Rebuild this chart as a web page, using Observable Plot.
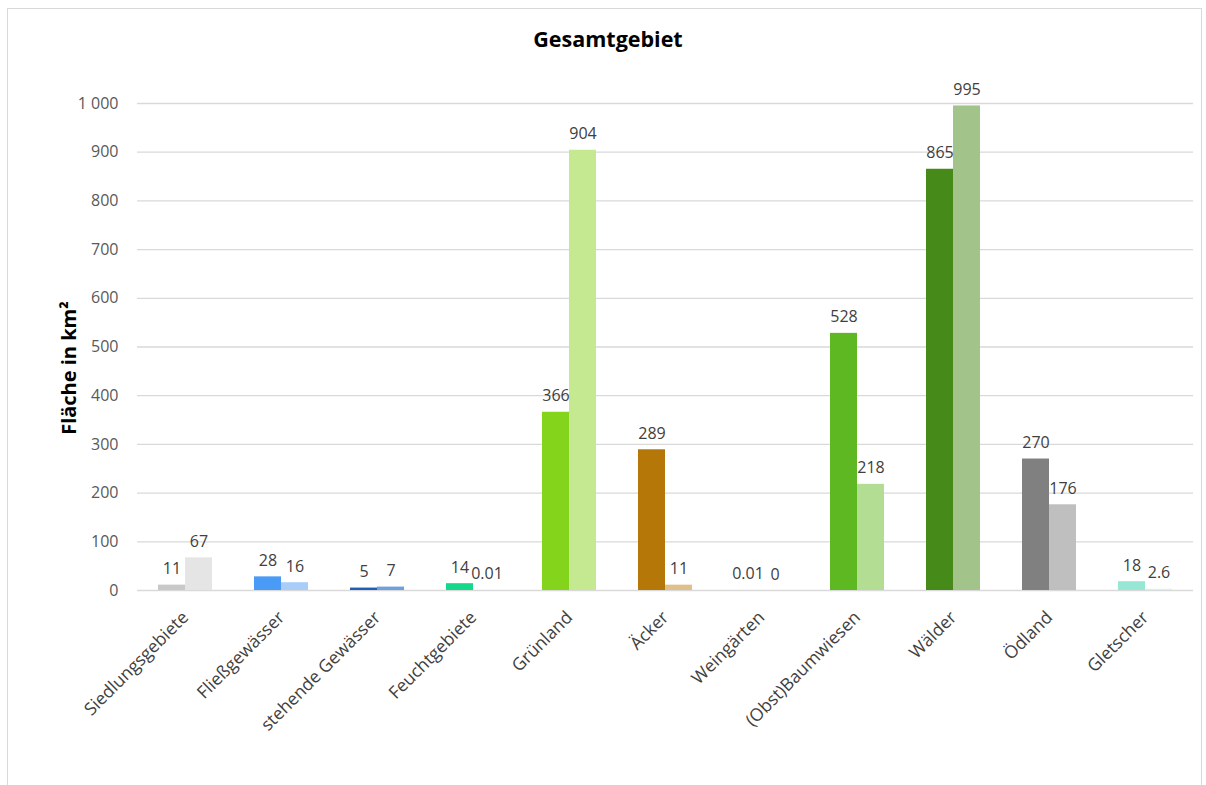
<!DOCTYPE html>
<html>
<head>
<meta charset="utf-8">
<script src="https://cdn.jsdelivr.net/npm/d3@7"></script>
<script src="https://cdn.jsdelivr.net/npm/@observablehq/plot@0.6"></script>
<style>
  html, body { margin: 0; padding: 0; background: #fff; }
  #frame { position: absolute; left: 7px; top: 8px; width: 1195px; height: 800px; border: 1px solid #d9d9d9; box-sizing: border-box; }
  #title { position: absolute; left: 0; top: 24px; width: 1216px; text-align: center; font: bold 21.5px "Open Sans", sans-serif; color: #000; }
  #ylabel { position: absolute; left: 68px; top: 368px; transform: translate(-50%, -50%) rotate(-90deg); white-space: nowrap; font: bold 20px "Open Sans", sans-serif; color: #000; }
  #chart { position: absolute; left: 0; top: 0; }
</style>
</head>
<body>
<div id="frame"></div>
<div id="chart"></div>
<div id="title">Gesamtgebiet</div>
<div id="ylabel">Fläche in km²</div>
<script>
const categories = ["Siedlungsgebiete","Fließgewässer","stehende Gewässer","Feuchtgebiete","Grünland","Äcker","Weingärten","(Obst)Baumwiesen","Wälder","Ödland","Gletscher"];
const seriesNames = ["Serie 1", "Serie 2"];
const values1 = [11, 28, 5, 14, 366, 289, 0.01, 528, 865, 270, 18];
const values2 = [67, 16, 7, 0.01, 904, 11, 0, 218, 995, 176, 2.6];
const colors1 = ["#c8c8c8","#4a9bf5","#1f5fb8","#14d98a","#84d41c","#b57708","#7030a0","#5db822","#468a1a","#808080","#96e8d4"];
const colors2 = ["#e5e5e5","#a8cdf8","#6fa0de","#8feccb","#c4e990","#dfc08a","#c9a0dc","#b2dd92","#a2c48a","#bfbfbf","#d0f5ec"];
const yTicks = [0, 100, 200, 300, 400, 500, 600, 700, 800, 900, 1000];

const rows = categories.flatMap((c, i) => [
  {cat: c, s: seriesNames[0], v: values1[i], color: colors1[i]},
  {cat: c, s: seriesNames[1], v: values2[i], color: colors2[i]}
]);

const fmt = d3.formatLocale({decimal: ".", thousands: " ", grouping: [3], currency: ["", ""]}).format(",");

const chart = Plot.plot({
  width: 1206,
  height: 785,
  marginLeft: 135,
  marginRight: 11,
  marginTop: 103,
  marginBottom: 195,
  style: {fontFamily: "'Open Sans', sans-serif", fontSize: "16px", color: "#595959", background: "transparent"},
  fx: {domain: categories, padding: 0, label: null},
  x: {domain: seriesNames, paddingInner: 0, paddingOuter: 0.75, axis: null},
  y: {domain: [0, 1000], label: null},
  color: {type: "identity"},
  marks: [
    Plot.ruleY(yTicks, {stroke: "#d9d9d9", strokeWidth: 1.3}),
    Plot.axisY(yTicks, {tickSize: 0, tickPadding: 19, tickFormat: fmt, label: null, fill: "#595959", fontSize: 16}),
    Plot.axisFx({anchor: "bottom", tickRotate: -45, tickSize: 0, tickPadding: 24, label: null, fill: "#404040", fontSize: 17.5}),
    Plot.barY(rows, {fx: "cat", x: "s", y: "v", fill: "color"}),
    Plot.text(rows, {fx: "cat", x: "s", y: "v", text: d => String(d.v), lineAnchor: "bottom", dy: -11, fill: "#404040", fontSize: 16})
  ]
});
document.getElementById("chart").appendChild(chart);
</script>
</body>
</html>
